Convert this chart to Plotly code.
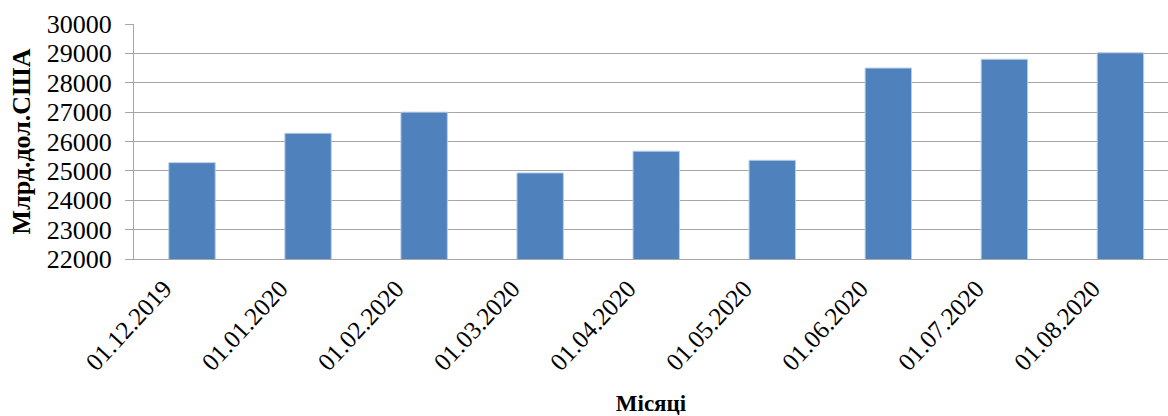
import plotly.graph_objects as go

categories = ["01.12.2019", "01.01.2020", "01.02.2020", "01.03.2020", "01.04.2020",
              "01.05.2020", "01.06.2020", "01.07.2020", "01.08.2020"]
values = [25280, 26280, 27000, 24930, 25670, 25360, 28500, 28800, 29020]
y_ticks = [22000, 23000, 24000, 25000, 26000, 27000, 28000, 29000, 30000]
y_ticktext = [str(v) for v in y_ticks]

font_family = "Liberation Serif, Times New Roman, serif"

fig = go.Figure(go.Bar(
    x=list(range(len(categories))),
    y=values,
    marker=dict(color="#4F81BD", line=dict(color="#B9CDE5", width=1)),
    width=0.4,
))

fig.update_layout(
    width=1168, height=416,
    margin=dict(l=134, r=0, t=24, b=157),
    paper_bgcolor="white", plot_bgcolor="white",
    showlegend=False,
    font=dict(family=font_family, color="black", size=24),
    xaxis=dict(
        automargin=False,
        tickmode="array",
        tickvals=list(range(len(categories))),
        ticktext=categories,
        range=[-0.5, 8.41],
        tickangle=-47,
        showgrid=False,
        showline=True, linecolor="#A6A6A6", linewidth=1,
        ticks="",
        ticklabelshift=-28,
        ticklabelstandoff=4,
        tickfont=dict(size=25, family=font_family),
        title=dict(text="<b>Місяці</b>", font=dict(size=23, family=font_family), standoff=28),
    ),
    yaxis=dict(
        automargin=False,
        range=[22000, 30000],
        tickmode="array",
        tickvals=y_ticks,
        ticktext=y_ticktext,
        showgrid=True, gridcolor="#A6A6A6", gridwidth=1,
        showline=True, linecolor="#A6A6A6", linewidth=1,
        ticks="outside", ticklen=8, tickcolor="#A6A6A6",
        ticklabelstandoff=8,
        tickfont=dict(size=26, family=font_family),
        title=dict(text="<b>Млрд.дол.США</b>", font=dict(size=26, family=font_family), standoff=8),
        zeroline=False,
    ),
)

fig.write_html(
    "out.html",
    config={"displayModeBar": False},
    post_script="document.body.style.margin='0';document.body.style.overflow='hidden';",
)
